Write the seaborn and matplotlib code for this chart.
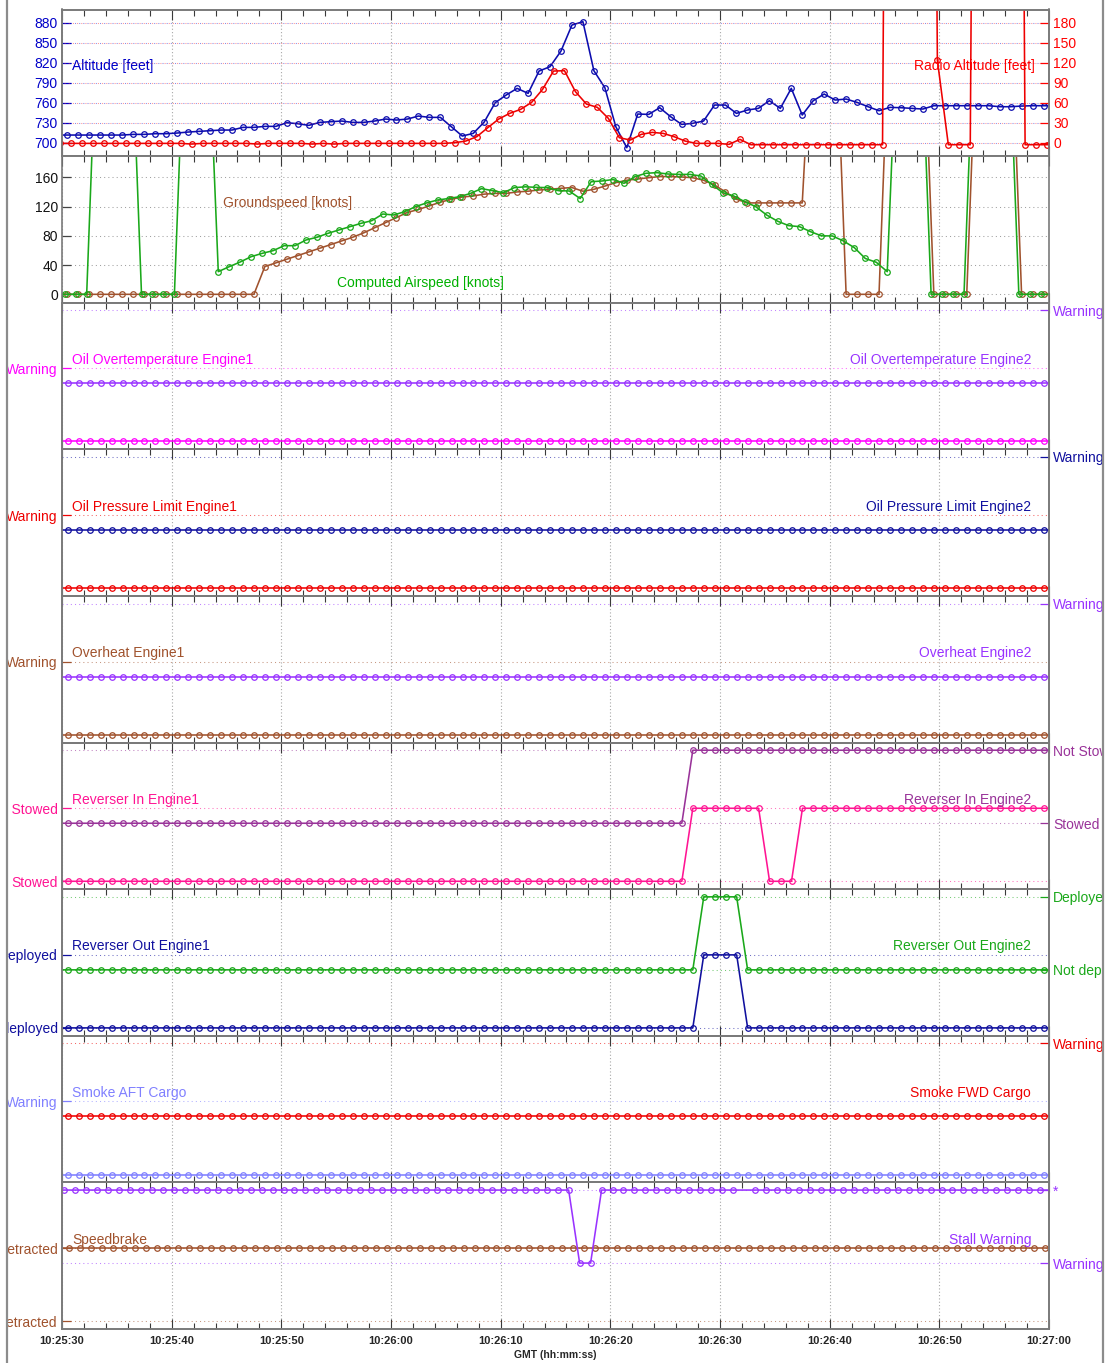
import numpy as np
import pandas as pd
import matplotlib
matplotlib.use("Agg")
import matplotlib.pyplot as plt
from matplotlib.ticker import MultipleLocator, FixedLocator
from matplotlib.patches import Rectangle
from matplotlib.lines import Line2D
import seaborn as sns

sns.set_style("white")
plt.rcParams['font.family'] = ['Liberation Sans', 'DejaVu Sans']

# ---------------- data ----------------
time_labels = ['10:25:30', '10:25:40', '10:25:50', '10:26:00', '10:26:10',
               '10:26:20', '10:26:30', '10:26:40', '10:26:50', '10:27:00']
sample_no = np.arange(-1, 91)          # 1 Hz samples, one beyond each edge
t_alt = sample_no + 0.50
t_radio = sample_no + 0.82
t_gs = sample_no + 0.50
t_cas = sample_no + 0.25
t_disc = sample_no + 0.52
t_stall = sample_no + 0.20
t_spdbrk = sample_no + 0.62

altitude = [711.5,
    711.5, 711.5, 711.5, 711.5, 711.5, 711.5, 712.5, 712.5, 713.5, 713.5,
    714.5, 716, 717, 718, 719, 719, 723, 723, 724.5, 724.5,
    730, 728.5, 726, 730.5, 731.5, 732.5, 730.5, 730.5, 732.5, 735.5,
    734, 735.5, 740, 738, 738, 724, 710, 714, 731, 760,
    771.5, 781.5, 774, 807.5, 814, 837.5, 876.5, 881.5, 808, 782.5,
    724, 692.5, 743, 742.5, 752.5, 739, 727.5, 729, 732.5, 756.5,
    756.5, 744, 749, 751.5, 763, 751.5, 781.5, 741.5, 763, 773,
    764, 765.5, 760.5, 754, 748, 753, 752.5, 751.5, 750.5, 755.5,
    755.5, 755.5, 755.5, 755.5, 755.5, 754, 754, 755, 755.5, 755.5,
    755.5]

radio_altitude = [-1,
    -1, -1, -1, -1, -1, -1, -1, -1, -1, -1,
    -1, -2, -1, -1, -1, -1, -1, -2, -1, -1,
    -1, -1, -2, -1, -2, -1, -1, -1, -1, -1,
    -1, -1, -1, -1, -1, 0, 2.5, 9, 22.5, 35.5,
    44, 50, 60.5, 80, 107.5, 108, 76.5, 58, 53, 36.5,
    7.5, 4, 12.5, 15.5, 14, 9, 2.5, -1, -1, -1,
    -2.5, 5, -3, -3, -3, -3, -3, -3, -3, -3,
    -3, -3, -3, -3, -3, 2500, 2500, 2500, 2500, 124,
    -3, -3, -3, 2500, 2500, 2500, 2500, -3, -3, -3,
    -3]

groundspeed = [0,
    0, 0, 0, 0, 0, 0, 0, 0, 0, 0,
    0, 0, 0, 0, 0, 0, 0, 0, 38, 43,
    48, 53, 58, 63, 68, 73, 78, 84, 91, 98,
    105, 112, 116, 121, 126, 130, 133, 134.5, 137, 138,
    138, 140, 141, 142.7, 143.6, 145, 146, 141, 143.6, 148,
    152.7, 156, 157.7, 159.5, 161, 161, 160.4, 159.5, 156, 149.5,
    140, 130, 125, 125, 125, 125, 125, 125, 400, 400,
    400, 0, 0, 0, 0, 400, 400, 400, 400, 0,
    0, 0, 0, 400, 400, 400, 400, 0, 0, 0,
    0]

computed_airspeed = [0,
    0, 0, 0, 400, 400, 400, 400, 0, 0, 0,
    0, 400, 400, 400, 31, 37.8, 44.2, 51.5, 56, 59.7,
    66.5, 66.5, 74.3, 78, 83.4, 88, 92.5, 97, 100.7, 109.8,
    108.5, 113, 120, 125, 129, 131, 133.5, 138, 144.5, 141.8,
    139, 145.9, 147, 146.3, 145.9, 141.8, 141.3, 131, 154, 155,
    157, 151.8, 161, 165.5, 166.4, 164.5, 164, 164, 161.8, 150.4,
    139, 134.5, 126.7, 120, 108.5, 100, 94, 92.5, 85.7, 80,
    79.8, 73, 63.8, 49, 43.8, 31, 400, 400, 400, 0,
    0, 0, 0, 400, 400, 400, 400, 0, 0, 0,
    0]

# discrete states (0 = lower level, 1 = upper level)
oil_temp_eng1 = [0] * 92
oil_temp_eng2 = [0] * 92
oil_press_eng1 = [0] * 92
oil_press_eng2 = [0] * 92
overheat_eng1 = [0] * 92
overheat_eng2 = [0] * 92
rev_in_eng1 = [0] + [0] * 57 + [1] * 7 + [0] * 3 + [1] * 23 + [1]
rev_in_eng2 = [0] + [0] * 57 + [1] * 33 + [1]
rev_out_eng1 = [0] + [0] * 58 + [1] * 4 + [0] * 28 + [0]
rev_out_eng2 = [0] + [0] * 58 + [1] * 4 + [0] * 28 + [0]
smoke_aft = [0] * 92
smoke_fwd = [0] * 92
speedbrake = [1] * 92
stall_warning = [1] + [1] * 47 + [0] * 2 + [1] * 41 + [1]
stall_missing_marker = 63

# ---------------- colours ----------------
BLUE = '#0c0cae'
RED = '#ee0000'
BROWN = '#a0522d'
GREEN = '#1aa81a'
MAGENTA = '#ff00ff'
PURPLE = '#9933ff'
NAVY = '#10109e'
PINK = '#ff1493'
PLUM = '#993399'
LAVENDER = '#8080ff'

# ---------------- figure ----------------
W, H = 1106, 1363
fig, axes = plt.subplots(9, 1, figsize=(W / 100, H / 100), dpi=100, sharex=True)
fig.subplots_adjust(left=62 / W, right=1049 / W, top=1 - 9.5 / H,
                    bottom=1 - 1329 / H, hspace=0)


def draw(ax, t, v, color, markevery=None):
    df = pd.DataFrame({'t': t, 'v': v})
    kw = {}
    if markevery is not None:
        kw['markevery'] = markevery
    sns.lineplot(data=df, x='t', y='v', ax=ax, color=color, marker='o',
                 markersize=4.0, markerfacecolor='none', markeredgecolor=color,
                 markeredgewidth=0.9, linewidth=1.15, estimator=None,
                 errorbar=None, legend=False, **kw)
    ax.set_xlabel('')
    ax.set_ylabel('')


def style_y(ax, ticks, labels, color, side):
    ax.set_yticks(ticks)
    ax.set_yticklabels(labels)
    ax.tick_params(axis='y', which='major', direction='in', length=6.5,
                   width=0.9, color=color, labelcolor=color, labelsize=10,
                   pad=3, left=(side == 'left'), right=(side == 'right'),
                   labelleft=(side == 'left'), labelright=(side == 'right'))
    ax.yaxis.set_minor_locator(FixedLocator([]))


def hgrid(ax, color, offset=0, alpha=0.6):
    ax.grid(axis='y', which='major', color=color, linestyle=(offset, (1, 3)),
            linewidth=0.75, alpha=alpha)


label_kw = dict(fontsize=10, va='center')

# ---- panel 1 : altitude / radio altitude
ax = axes[0]
draw(ax, t_alt, altitude, BLUE)
ax.set_ylim(679.9, 899.8)
style_y(ax, [700, 730, 760, 790, 820, 850, 880],
        ['700', '730', '760', '790', '820', '850', '880'], '#0000c8', 'left')
hgrid(ax, '#3030d0', 0, 0.55)
ax2 = ax.twinx()
draw(ax2, t_radio, radio_altitude, RED)
ax2.set_ylim(-20.1, 199.8)
style_y(ax2, [0, 30, 60, 90, 120, 150, 180],
        ['0', '30', '60', '90', '120', '150', '180'], '#ff0000', 'right')
hgrid(ax2, '#ff3030', 2, 0.5)
ax.text(0.0101, 0.615, 'Altitude [feet]', color='#0000c8',
        transform=ax.transAxes, ha='left', **label_kw)
ax2.text(0.9858, 0.615, 'Radio Altitude [feet]', color='#ff0000',
         transform=ax2.transAxes, ha='right', **label_kw)

# ---- panel 2 : speeds
ax = axes[1]
draw(ax, t_gs, groundspeed, BROWN)
draw(ax, t_cas, computed_airspeed, GREEN)
ax.set_ylim(-11.5, 189)
style_y(ax, [0, 40, 80, 120, 160], ['0', '40', '80', '120', '160'], '#111111', 'left')
ax.tick_params(axis='y', color='#444444')
hgrid(ax, '#888888', 0, 0.8)
ax.text(0.163, 0.68, 'Groundspeed [knots]', color=BROWN,
        transform=ax.transAxes, ha='left', **label_kw)
ax.text(0.2786, 0.134, 'Computed Airspeed [knots]', color='#00b000',
        transform=ax.transAxes, ha='left', **label_kw)

# ---- discrete panels
discrete = [
    ('Oil Overtemperature Engine1', oil_temp_eng1, t_disc, MAGENTA, [1], ['Warning'],
     'Oil Overtemperature Engine2', oil_temp_eng2, t_disc, PURPLE, [1], ['Warning']),
    ('Oil Pressure Limit Engine1', oil_press_eng1, t_disc, RED, [1], ['Warning'],
     'Oil Pressure Limit Engine2', oil_press_eng2, t_disc, NAVY, [1], ['Warning']),
    ('Overheat Engine1', overheat_eng1, t_disc, BROWN, [1], ['Warning'],
     'Overheat Engine2', overheat_eng2, t_disc, PURPLE, [1], ['Warning']),
    ('Reverser In Engine1', rev_in_eng1, t_disc, PINK, [0, 1], ['Stowed', 'Not Stowed'],
     'Reverser In Engine2', rev_in_eng2, t_disc, PLUM, [0, 1], ['Stowed', 'Not Stowed']),
    ('Reverser Out Engine1', rev_out_eng1, t_disc, NAVY, [0, 1], ['Not deployed', 'Deployed'],
     'Reverser Out Engine2', rev_out_eng2, t_disc, GREEN, [0, 1], ['Not deployed', 'Deployed']),
    ('Smoke AFT Cargo', smoke_aft, t_disc, LAVENDER, [1], ['Warning'],
     'Smoke FWD Cargo', smoke_fwd, t_disc, RED, [1], ['Warning']),
    ('Speedbrake', speedbrake, t_spdbrk, BROWN, [0, 1], ['Retracted', 'Not retracted'],
     'Stall Warning', stall_warning, t_stall, PURPLE, [0, 1], ['Warning', '*']),
]

for i, (n1, v1, t1, c1, tk1, lb1, n2, v2, t2, c2, tk2, lb2) in enumerate(discrete):
    ax = axes[i + 2]
    draw(ax, t1, v1, c1)
    ax.set_ylim(-0.108, 1.900)
    style_y(ax, tk1, lb1, c1, 'left')
    hgrid(ax, c1, 0)
    ax2 = ax.twinx()
    me = None
    if n2 == 'Stall Warning':
        me = [j for j in range(len(v2)) if j != stall_missing_marker]
    draw(ax2, t2, v2, c2, markevery=me)
    ax2.set_ylim(-0.903, 1.105)
    style_y(ax2, tk2, lb2, c2, 'right')
    hgrid(ax2, c2, 0)
    ax.text(0.0101, 0.609, n1, color=c1, transform=ax.transAxes, ha='left', **label_kw)
    ax2.text(0.9818, 0.609, n2, color=c2, transform=ax2.transAxes, ha='right', **label_kw)

# ---- common x axis / frame styling
for j, ax in enumerate(axes):
    ax.set_xlim(0, 90)
    ax.xaxis.set_major_locator(FixedLocator(np.arange(0, 91, 10)))
    ax.xaxis.set_minor_locator(MultipleLocator(2))
    ax.tick_params(axis='x', which='major', direction='in', length=7.5, width=0.8,
                   color='#3a3a3a', top=True, bottom=True)
    ax.tick_params(axis='x', which='minor', direction='in', length=4.2, width=0.8,
                   color='#3a3a3a', top=True, bottom=True)
    ax.grid(axis='x', which='major', linestyle=(0, (1, 2)), color='#a8a8a8', linewidth=0.8)
    for s in ax.spines.values():
        s.set_color('#7a7a7a')
        s.set_linewidth(1.2)
    ax.tick_params(axis='x', labelbottom=(j == len(axes) - 1))

for other in fig.axes:
    if other not in axes:
        for s in other.spines.values():
            s.set_color('#7a7a7a')
            s.set_linewidth(1.2)

axes[-1].set_xticklabels(time_labels)
axes[-1].tick_params(axis='x', which='major', labelsize=8, pad=5)
for lab in axes[-1].get_xticklabels():
    lab.set_fontweight('bold')
axes[-1].set_xlabel('GMT (hh:mm:ss)', fontsize=7.5, fontweight='bold', labelpad=3)

# window border (clips long labels like the original screenshot)
fig.add_artist(Rectangle((0, 0), 7.5 / W, 1, transform=fig.transFigure,
                         facecolor='white', edgecolor='none', zorder=10))
fig.add_artist(Rectangle((1102 / W, 0), 4 / W, 1, transform=fig.transFigure,
                         facecolor='white', edgecolor='none', zorder=10))
fig.add_artist(Line2D([7 / W, 7 / W], [0, 1], transform=fig.transFigure,
                      color='#8c8c8c', lw=1.6, zorder=11))
fig.add_artist(Line2D([1103 / W, 1103 / W], [0, 1], transform=fig.transFigure,
                      color='#8c8c8c', lw=1.6, zorder=11))

fig.savefig('out.png', dpi=100, facecolor='white')
